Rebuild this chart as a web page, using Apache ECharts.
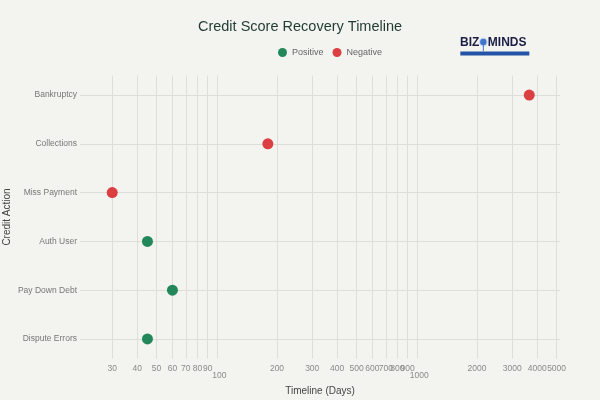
<!DOCTYPE html>
<html>
  <head>
    <meta charset="UTF-8">
    <title>Credit Score Recovery Timeline</title>
    <style type="text/css">
      body { margin: 0; padding: 0; background-color: #f3f3ef; }
      #main { width: 600px; height: 400px; }
    </style>
  </head>
  <body>
    <div id="main"></div>
    <script src="https://cdn.jsdelivr.net/npm/echarts@6/dist/echarts.min.js" type="text/javascript"></script>
    <script type="text/javascript">
      // bottom to top
      var actions = ['Dispute Errors', 'Pay Down Debt', 'Auth User', 'Miss Payment', 'Collections', 'Bankruptcy'];
      var days = [45, 60, 45, 30, 180, 3650];
      var impact = ['Positive', 'Positive', 'Positive', 'Negative', 'Negative', 'Negative'];
      var xTicks = [30, 40, 50, 60, 70, 80, 90, 100, 200, 300, 400, 500, 600, 700, 800, 900, 1000, 2000, 3000, 4000, 5000];
      var yTicks = [0, 1, 2, 3, 4, 5];

      function pointsFor(kind) {
        var out = [];
        for (var i = 0; i < actions.length; i++) {
          if (impact[i] === kind) out.push([days[i], i]);
        }
        return out;
      }

      var font = 'Liberation Sans, Arial, sans-serif';
      var myChart = echarts.init(document.getElementById('main'));
      var option = {
        backgroundColor: '#f3f3ef',
        textStyle: { fontFamily: font },
        title: {
          text: 'Credit Score Recovery Timeline',
          left: 'center',
          top: 14,
          textStyle: { fontSize: 14.5, fontWeight: 'normal', color: '#1f3b33', fontFamily: font }
        },
        legend: {
          left: 273,
          top: 43,
          icon: 'circle',
          itemWidth: 9,
          itemHeight: 9,
          itemGap: 9,
          textStyle: { fontSize: 9, color: '#666', fontFamily: font },
          data: ['Positive', 'Negative']
        },
        grid: { left: 80, right: 40, top: 75.5, bottom: 41.5, containLabel: false, outerBoundsMode: 'none' },
        xAxis: {
          type: 'log',
          logBase: 10,
          min: 20.7,
          max: 5200,
          name: 'Timeline (Days)',
          nameLocation: 'middle',
          nameGap: 28,
          nameMoveOverlap: false,
          nameTextStyle: { fontSize: 10, color: '#444', fontFamily: font },
          axisLine: { show: false },
          axisTick: { show: false, customValues: xTicks },
          axisLabel: {
            customValues: xTicks,
            fontSize: 8.5,
            color: '#8a8a8a',
            margin: 6,
            formatter: function (v) {
              if (v === 100 || v === 1000) return '{low|' + v + '}';
              return String(v);
            },
            rich: {
              low: { fontSize: 8.5, color: '#8a8a8a', padding: [7, 0, 0, 5] }
            }
          },
          splitLine: { show: true, lineStyle: { color: '#deded9', width: 1 } }
        },
        yAxis: {
          type: 'value',
          min: -0.4,
          max: 5.4,
          name: 'Credit Action',
          nameLocation: 'middle',
          nameRotate: 90,
          nameGap: 68,
          nameMoveOverlap: false,
          nameTextStyle: { fontSize: 10, color: '#444', fontFamily: font },
          axisLine: { show: false },
          axisTick: { show: false, customValues: yTicks },
          axisLabel: {
            customValues: yTicks,
            fontSize: 8.5,
            color: '#777',
            margin: 3,
            formatter: function (v) { return actions[v]; }
          },
          splitLine: { show: true, lineStyle: { color: '#deded9', width: 1 } }
        },
        series: [
          {
            name: 'Positive',
            type: 'scatter',
            symbolSize: 11,
            itemStyle: { color: '#22885a', opacity: 1 },
            data: pointsFor('Positive')
          },
          {
            name: 'Negative',
            type: 'scatter',
            symbolSize: 11,
            itemStyle: { color: '#dc3f42', opacity: 1 },
            data: pointsFor('Negative')
          }
        ],
        graphic: [
          {
            type: 'group',
            left: 460,
            top: 37,
            children: [
              { type: 'text', x: 20, y: 7, style: { text: 'BIZ', fill: '#1b1f45', font: 'bold 12px ' + font, align: 'right', verticalAlign: 'middle' } },
              { type: 'circle', shape: { cx: 24, cy: 6, r: 4.5 }, style: { fill: '#cfdcf3' } },
              { type: 'circle', shape: { cx: 24, cy: 6, r: 3.2 }, style: { fill: '#3f74c9' } },
              { type: 'rect', shape: { x: 23.5, y: 9, width: 1, height: 6 }, style: { fill: '#3f74c9' } },
              { type: 'text', x: 28.5, y: 7, style: { text: 'MINDS', fill: '#1b1f45', font: 'bold 12px ' + font, align: 'left', verticalAlign: 'middle' } },
              { type: 'rect', shape: { x: 1, y: 15.5, width: 69, height: 4 }, style: { fill: '#2454a8' } }
            ]
          }
        ]
      };
      myChart.setOption(option);
    </script>
  </body>
</html>
